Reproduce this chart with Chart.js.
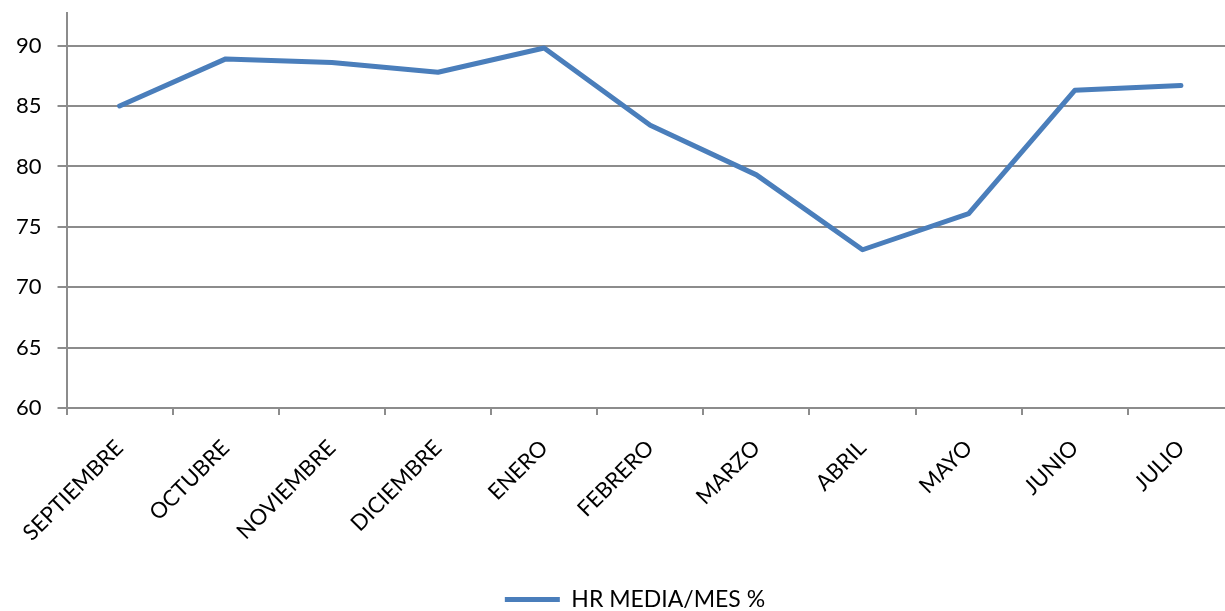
<!DOCTYPE html>
<html>
<head>
<meta charset="utf-8">
<script src="https://cdn.jsdelivr.net/npm/chart.js@4/dist/chart.umd.min.js"></script>
<style>
  html, body { margin: 0; padding: 0; background: #fff; overflow: hidden; }
  #wrap { width: 1334px; height: 611px; position: relative; }
</style>
</head>
<body>
<div id="wrap"><canvas id="hrChart"></canvas></div>
<script>
const meses = ['SEPTIEMBRE', 'OCTUBRE', 'NOVIEMBRE', 'DICIEMBRE', 'ENERO', 'FEBRERO', 'MARZO', 'ABRIL', 'MAYO', 'JUNIO', 'JULIO'];
const hrMedia = [85.0, 88.9, 88.6, 87.8, 89.8, 83.4, 79.3, 73.1, 76.1, 86.3, 86.7];
const yTicks = [60, 65, 70, 75, 80, 85, 90];

const fuente = 'Lato, "Open Sans", sans-serif';
const gris = '#8c8c8c';

// nudge the legend a bit to the right of where the layout puts it
const moverLeyenda = {
  id: 'moverLeyenda',
  afterLayout(chart) {
    if (chart.legend) {
      chart.legend.left += 18;
      chart.legend.right += 18;
    }
  }
};

new Chart(document.getElementById('hrChart'), {
  type: 'line',
  data: {
    labels: meses,
    datasets: [{
      label: 'HR MEDIA/MES %',
      data: hrMedia,
      borderColor: '#4a7ebb',
      backgroundColor: '#4a7ebb',
      borderWidth: 5,
      borderCapStyle: 'round',
      borderJoinStyle: 'round',
      pointRadius: 0,
      tension: 0
    }]
  },
  plugins: [moverLeyenda],
  options: {
    responsive: true,
    maintainAspectRatio: false,
    animation: false,
    layout: { padding: { top: 13, right: 100, left: 0, bottom: -10 } },
    plugins: {
      tooltip: { enabled: false },
      legend: {
        position: 'bottom',
        labels: {
          usePointStyle: true,
          pointStyle: 'line',
          pointStyleWidth: 55,
          color: '#000',
          font: { family: fuente, size: 23 },
          padding: 6
        }
      }
    },
    scales: {
      x: {
        offset: true,
        afterFit: (scale) => { scale.height = 174; },
        grid: {
          offset: true,
          drawOnChartArea: false,
          drawTicks: true,
          tickLength: 7,
          color: gris,
          lineWidth: 2
        },
        border: { color: gris, width: 2 },
        ticks: {
          color: '#000',
          font: { family: fuente, size: 22 },
          minRotation: 45,
          maxRotation: 45,
          padding: 20,
          autoSkip: false
        }
      },
      y: {
        min: 60,
        max: 92.7,
        afterBuildTicks: (scale) => {
          scale.ticks = yTicks.map(v => ({ value: v }));
        },
        // top of the axis carries no label, so no room is kept above it
        afterFit: (scale) => { scale.paddingTop = 0; },
        grid: {
          color: gris,
          lineWidth: 2,
          tickLength: 9
        },
        border: { color: gris, width: 2 },
        ticks: {
          color: '#000',
          font: { family: fuente, size: 22 },
          padding: 16
        }
      }
    }
  }
});
</script>
</body>
</html>
